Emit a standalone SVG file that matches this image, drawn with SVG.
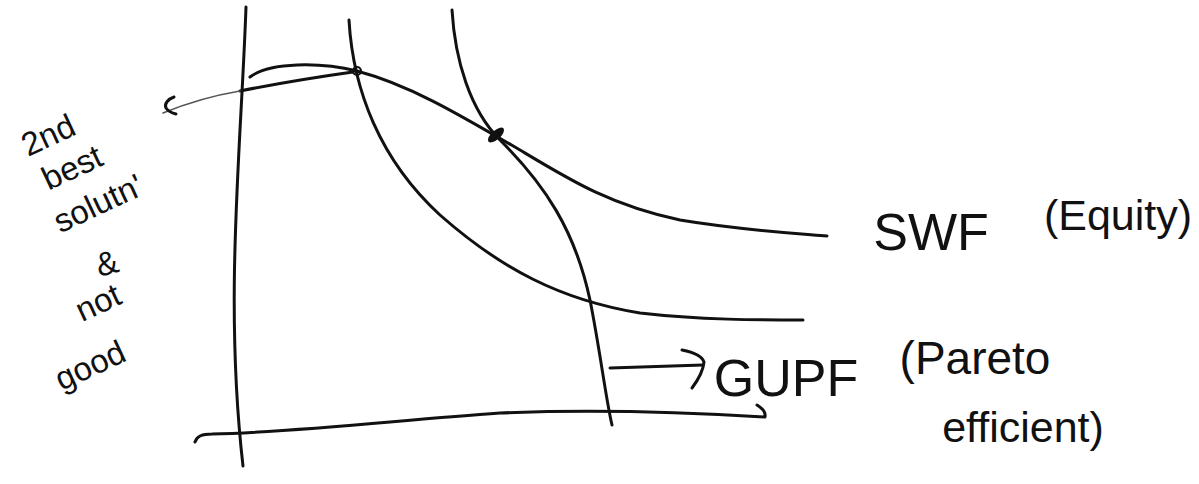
<svg xmlns="http://www.w3.org/2000/svg" width="1199" height="484" viewBox="0 0 1199 484">
<style>
.ink{fill:none;stroke:#111;stroke-width:3;stroke-linecap:round;stroke-linejoin:round}
.thin{fill:none;stroke:#555;stroke-width:1.6;stroke-linecap:round}
.hand{font-family:"Liberation Sans",Arial,sans-serif;fill:#111;text-anchor:middle}
.side{font-size:33px}
</style>
<rect width="1199" height="484" fill="#fff"/>
<g id="axes">
  <path class="ink" d="M246,7 C241,150 224,300 243,466"/>
  <path class="ink" d="M195,442 C197,436 202,434 212,434 C300,432 400,420 500,413 C600,409 700,413 765,417 C766,412 762,408 757,405"/>
</g>
<g id="curves">
  <path id="swf-curve" class="ink" d="M250,77 C270,62 320,62 357,71 C410,85 460,115 520,150 C570,180 610,205 680,220 C740,230 790,233 827,236"/>
  <path id="lower-curve" class="ink" d="M349,20 C353,90 380,160 440,215 C500,268 560,300 640,313 C700,320 760,320 803,320"/>
  <path id="gupf-curve" class="ink" d="M452,10 C455,60 470,110 500,140 C545,185 575,230 590,300 C600,350 606,400 612,425"/>
</g>
<g id="points">
  <circle cx="357" cy="71" r="4" fill="none" stroke="#111" stroke-width="2.2"/>
  <ellipse cx="496" cy="135" rx="10" ry="4.5" transform="rotate(-42 496 135)" fill="#111"/>
</g>
<g id="connectors">
  <path class="ink" d="M353,72 C310,78 270,85 240,91" stroke-width="2.4"/>
  <path class="thin" d="M240,91 C210,96 185,104 163,113"/>
  <path class="ink" d="M174,97 C168,99 164,104 166,108 C168,111 172,113 176,114" stroke-width="2.6"/>
  <path class="ink" d="M610,368 L703,365"/>
  <path class="ink" d="M682,350 C692,352 702,356 704,362 C703,372 698,380 692,388"/>
</g>
<g id="label-left">
  <text class="hand side" transform="translate(48,135) rotate(-25)" dy="0.35em">2nd</text>
  <text class="hand side" transform="translate(72,167) rotate(-25)" dy="0.35em">best</text>
  <text class="hand side" transform="translate(98,203) rotate(-25)" dy="0.35em">solutn'</text>
  <text class="hand side" transform="translate(107,263) rotate(-15)" dy="0.35em">&amp;</text>
  <text class="hand side" transform="translate(98,302) rotate(-25)" dy="0.35em">not</text>
  <text class="hand side" transform="translate(90,365) rotate(-25)" dy="0.35em">good</text>
</g>
<g id="label-swf">
  <text class="hand" x="931" y="250" font-size="52">SWF</text>
  <text class="hand" x="1118" y="230" font-size="43">(Equity)</text>
</g>
<g id="label-gupf">
  <text class="hand" x="786" y="396" font-size="52">GUPF</text>
  <text class="hand" x="975" y="374" font-size="46">(Pareto</text>
  <text class="hand" x="1023" y="442" font-size="43">efficient)</text>
</g>
</svg>
